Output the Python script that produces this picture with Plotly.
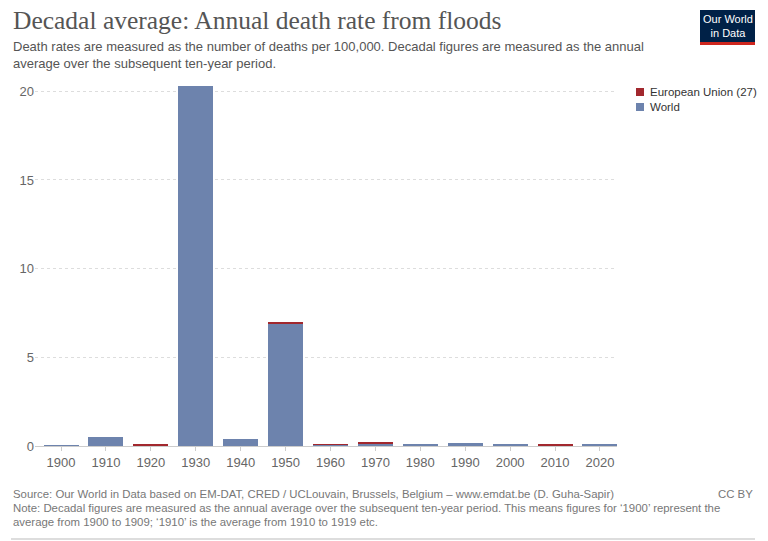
import plotly.graph_objects as go

decades = ["1900", "1910", "1920", "1930", "1940", "1950", "1960", "1970", "1980", "1990", "2000", "2010", "2020"]
world = [0.005, 0.52, 0.03, 20.3, 0.4, 6.92, 0.08, 0.16, 0.08, 0.16, 0.06, 0.04, 0.07]
eu = [0.0, 0.0, 0.03, 0.0, 0.0, 0.09, 0.03, 0.03, 0.0, 0.0, 0.0, 0.02, 0.0]
y_ticks = [0, 5, 10, 15, 20]

WORLD_COLOR = "#6D83AD"
EU_COLOR = "#A2282E"

W, H = 768, 541
L, R, T, B = 35, 151, 86, 95
PW, PH = W - L - R, H - T - B


def px(x):
    return (x - L) / PW


def py(y):
    return (H - B - y) / PH


fig = go.Figure()
fig.add_trace(go.Bar(x=decades, y=world, name="World", marker=dict(color=WORLD_COLOR, line=dict(width=0))))
fig.add_trace(go.Bar(x=decades, y=eu, name="European Union (27)", marker=dict(color=EU_COLOR, line=dict(width=0))))

fig.update_layout(
    width=W, height=H,
    margin=dict(l=L, r=R, t=T, b=B),
    barmode="stack",
    bargap=0.22,
    plot_bgcolor="white",
    paper_bgcolor="white",
    font=dict(family="Liberation Sans, Arial, sans-serif", color="#666666"),
    showlegend=False,
    xaxis=dict(
        type="category",
        range=[-0.58, 12.38],
        tickfont=dict(size=13, color="#666666"),
        showgrid=False,
        showline=True, linecolor="#cccccc", linewidth=1,
        ticks="outside", ticklen=4, tickcolor="#cccccc",
    ),
    yaxis=dict(
        range=[0, 20.3],
        tickvals=y_ticks,
        tickfont=dict(size=13, color="#666666"),
        showgrid=True, gridcolor="#dddddd", griddash="3px,3px", gridwidth=1,
        zeroline=False,
        showline=False,
        ticks="", ticklen=0,
    ),
)

annotations = [
    dict(text="Decadal average: Annual death rate from floods", x=px(11), y=py(20),
         font=dict(family="Liberation Serif, DejaVu Serif, serif", size=25.5, color="#555555")),
    dict(text="Death rates are measured as the number of deaths per 100,000. Decadal figures are measured as the annual",
         x=px(11), y=py(47), font=dict(size=13, color="#555555")),
    dict(text="average over the subsequent ten-year period.",
         x=px(11), y=py(63), font=dict(size=13, color="#555555")),
    dict(text="Source: Our World in Data based on EM-DAT, CRED / UCLouvain, Brussels, Belgium \u2013 www.emdat.be (D. Guha-Sapir)",
         x=px(11), y=py(494), font=dict(size=11.4, color="#777777")),
    dict(text="Note: Decadal figures are measured as the annual average over the subsequent ten-year period. This means figures for \u20181900\u2019 represent the",
         x=px(11), y=py(508), font=dict(size=11.4, color="#777777")),
    dict(text="average from 1900 to 1909; \u20181910\u2019 is the average from 1910 to 1919 etc.",
         x=px(11), y=py(522), font=dict(size=11.4, color="#777777")),
    dict(text="European Union (27)", x=px(648), y=py(92), font=dict(size=11.5, color="#333333")),
    dict(text="World", x=px(648), y=py(107), font=dict(size=11.5, color="#333333")),
]
for a in annotations:
    a.update(xref="paper", yref="paper", xanchor="left", yanchor="middle", showarrow=False)
    fig.add_annotation(**a)

# legend swatches
for color, yc in [(EU_COLOR, 92), (WORLD_COLOR, 107)]:
    fig.add_shape(type="rect", xref="paper", yref="paper", x0=px(636), x1=px(644), y0=py(yc + 4), y1=py(yc - 4),
                  fillcolor=color, line=dict(width=0))

fig.add_annotation(text="CC BY", xref="paper", yref="paper", x=px(755), y=py(494),
                   xanchor="right", yanchor="middle", showarrow=False,
                   font=dict(size=11.4, color="#777777"))

# Logo
fig.add_shape(type="rect", xref="paper", yref="paper", x0=px(700), x1=px(755), y0=py(42), y1=py(10),
              fillcolor="#002147", line=dict(width=0))
fig.add_shape(type="rect", xref="paper", yref="paper", x0=px(700), x1=px(755), y0=py(45), y1=py(42),
              fillcolor="#CE261E", line=dict(width=0))
fig.add_annotation(text="Our World<br>in Data", xref="paper", yref="paper", x=px(727.5), y=py(26),
                   xanchor="center", yanchor="middle", showarrow=False,
                   font=dict(size=11, color="white", family="Liberation Sans Narrow, Liberation Sans, sans-serif"))

# bottom rule
fig.add_shape(type="line", xref="paper", yref="paper", x0=px(11), x1=px(755), y0=py(539), y1=py(539),
              line=dict(color="#bbbbbb", width=1))

fig.write_html("out.html", config={"displayModeBar": False},
               post_script="document.body.style.margin='0';document.body.style.overflow='hidden';")
